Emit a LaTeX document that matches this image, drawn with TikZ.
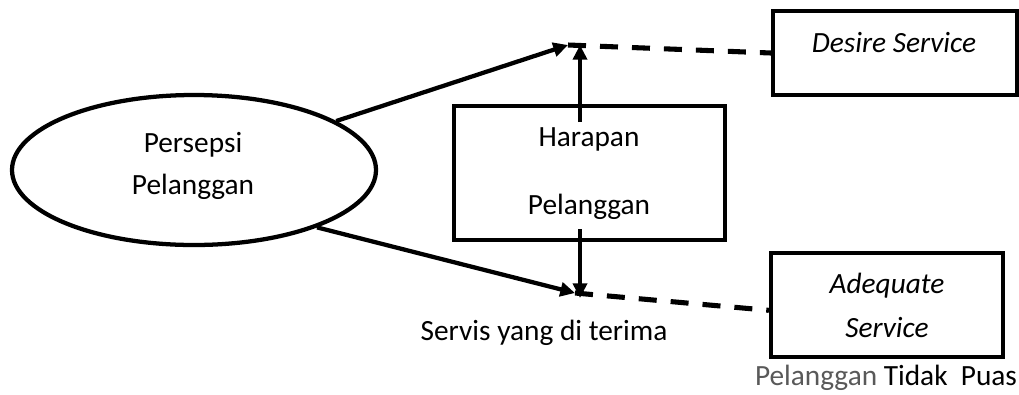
\documentclass[tikz,border=0pt]{standalone}
\usepackage{fontspec}
\setmainfont{Carlito}
\usetikzlibrary{arrows.meta,shapes.geometric}
\begin{document}
\begin{tikzpicture}[x=0.75pt,y=-0.75pt,
  every node/.style={font=\fontsize{22}{26}\selectfont},
  shp/.style={draw,line width=3.2pt},
  lbl/.style={inner sep=0pt,anchor=center},
  arr/.style={line width=3.2pt,-{Triangle[length=11pt,width=10.5pt]}},
  dsh/.style={line width=3.8pt,dash pattern=on 13.5pt off 10.5pt}]
\useasboundingbox (0,0) rectangle (1019,394);
\node[shp,ellipse,minimum width=273pt,minimum height=112.5pt,inner sep=0pt] (ell) at (194,170) {};
\node[shp,rectangle,minimum width=203.25pt,minimum height=100.5pt,inner sep=0pt] (har) at (589.5,173) {};
\node[shp,rectangle,minimum width=183pt,minimum height=63pt,inner sep=0pt] (des) at (895,53) {};
\node[shp,rectangle,minimum width=174pt,minimum height=78pt,inner sep=0pt] (ade) at (887,305) {};
\node[lbl] (t1) at (193,145) {Persepsi};
\node[lbl] (t2) at (193,187) {Pelanggan};
\node[lbl] (t3) at (589,139) {Harapan};
\node[lbl] (t4) at (589,207) {Pelanggan};
\node[lbl] (t5) at (894,43) {\itshape Desire Service};
\node[lbl] (t6) at (887,286) {\itshape Adequate};
\node[lbl] (t7) at (887,327) {\itshape Service};
\node[lbl] (t8) at (544,333) {Servis yang di terima};
\node[lbl] (t9) at (886,378) {\textcolor[gray]{0.35}{Pelanggan} Tidak\ \ Puas};
\coordinate (T) at (568,45);
\coordinate (Tv) at (580,45);
\coordinate (B) at (575,293);
\coordinate (Bv) at (580,298);
\coordinate (hu) at (580,122);
\coordinate (hd) at (580,229);
\draw[arr] (ell.19) -- (T);
\draw[arr] (ell.335) -- (B);
\draw[arr] (hu) -- (Tv);
\draw[arr] (hd) -- (Bv);
\draw[dsh] (T) -- (des.west);
\draw[dsh] (B) -- ([yshift=-4pt]ade.west);
\end{tikzpicture}
\end{document}
